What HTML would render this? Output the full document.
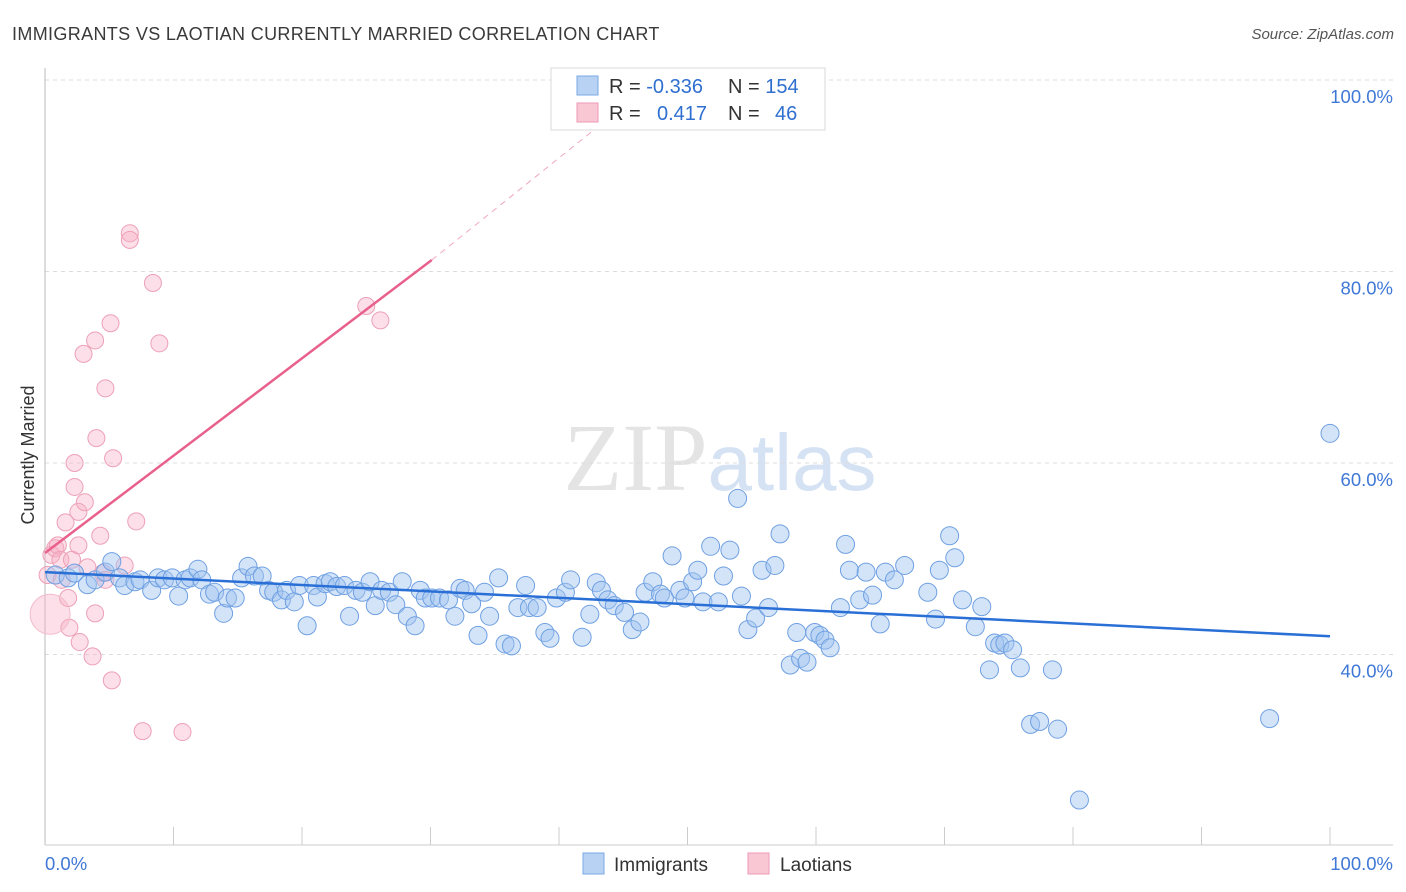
<!DOCTYPE html>
<html><head><meta charset="utf-8"><style>
body{margin:0;background:#fff;font-family:"Liberation Sans",sans-serif}
svg{display:block}
</style></head><body>
<svg id="chart" width="1406" height="892" viewBox="0 0 1406 892">
<text x="12" y="40" font-size="18" fill="#3a3a3a" letter-spacing="0.35">IMMIGRANTS VS LAOTIAN CURRENTLY MARRIED CORRELATION CHART</text>
<text x="1394" y="39" font-size="15" fill="#555" font-style="italic" text-anchor="end">Source: ZipAtlas.com</text>
<text x="720" y="490" font-size="96" fill="#e4e4e4" text-anchor="middle" font-family="Liberation Serif,serif">ZIP<tspan fill="#d4e2f4" font-family="Liberation Sans,sans-serif" font-size="80">atlas</tspan></text>
<text transform="translate(34,455) rotate(-90)" font-size="18" fill="#333" text-anchor="middle">Currently Married</text>
<g id="grid"></g><g id="pts"></g><g id="lines"></g>
<g>
<rect x="551" y="68" width="274" height="62" fill="#fff" stroke="#d8d8d8"/>
<rect x="577" y="76" width="21" height="19" fill="#b8d2f4" stroke="#7aa8e4"/>
<rect x="577" y="103" width="21" height="19" fill="#f9c6d4" stroke="#ee9ab4"/>
<text x="609" y="93" font-size="20" fill="#333">R = <tspan fill="#2f6fd0">-0.336</tspan><tspan x="728">N = </tspan><tspan fill="#2f6fd0">154</tspan></text>
<text x="609" y="120" font-size="20" fill="#333">R = <tspan x="657" fill="#2f6fd0">0.417</tspan><tspan x="728">N = </tspan><tspan x="775" fill="#2f6fd0">46</tspan></text>
</g>
<g>
<rect x="583" y="853" width="21" height="21" fill="#b8d2f4" stroke="#7aa8e4"/>
<text x="614" y="871" font-size="19" fill="#333">Immigrants</text>
<rect x="748" y="853" width="21" height="21" fill="#f9c6d4" stroke="#ee9ab4"/>
<text x="780" y="871" font-size="19" fill="#333">Laotians</text>
</g>
</svg>
<script>
const yTicks=[100,80,60,40];
const yTickLabels=["100.0%","80.0%","60.0%","40.0%"];
const xTickLabels=["0.0%","100.0%"];
const blueX=[0.8,1.8,2.3,3.3,3.9,4.7,5.2,5.8,6.2,7.0,7.4,8.3,8.8,9.3,9.9,10.4,10.9,11.3,11.9,12.2,12.8,13.2,13.9,14.2,14.8,15.3,15.8,16.3,16.9,17.4,17.8,18.4,18.8,19.4,19.8,20.4,20.9,21.2,21.8,22.2,22.7,23.3,23.7,24.2,24.7,25.3,25.7,26.2,26.8,27.3,27.8,28.2,28.8,29.2,29.6,30.1,30.7,31.4,31.9,32.3,32.7,33.2,33.7,34.2,34.6,35.3,35.8,36.3,36.8,37.4,37.7,38.3,38.9,39.3,39.8,40.5,40.9,41.8,42.4,42.9,43.3,43.8,44.3,45.1,45.7,46.3,46.7,47.3,47.9,48.2,48.8,49.4,49.8,50.4,50.8,51.2,51.8,52.4,52.8,53.3,53.9,54.2,54.7,55.3,55.8,56.3,56.8,57.2,58.0,58.5,58.8,59.3,59.9,60.3,60.7,61.1,61.9,62.3,62.6,63.4,63.9,64.4,65.0,65.4,66.1,66.9,68.7,69.3,69.6,70.4,70.8,71.4,72.4,72.9,73.5,73.9,74.3,74.7,75.3,75.9,76.7,77.4,78.4,78.8,80.5,95.3,100];
const blueY=[48.3,48.0,48.5,47.3,47.8,48.6,49.7,48.0,47.2,47.6,47.8,46.7,48.0,47.8,48.0,46.1,47.8,48.0,48.9,47.8,46.3,46.5,44.3,45.9,45.9,48.0,49.2,48.2,48.2,46.7,46.5,45.7,46.7,45.5,47.2,43.0,47.2,46.0,47.4,47.6,47.1,47.2,44.0,46.7,46.5,47.6,45.1,46.7,46.5,45.2,47.6,44.0,43.0,46.7,45.9,45.9,45.9,45.7,44.0,46.9,46.7,45.3,42.0,46.5,44.0,48.0,41.1,40.9,44.9,47.2,44.9,44.9,42.3,41.7,45.9,46.5,47.8,41.8,44.2,47.5,46.7,45.7,45.1,44.4,42.6,43.4,46.5,47.6,46.3,45.9,50.3,46.7,45.9,47.6,48.8,45.5,51.3,45.5,48.2,50.9,56.3,46.1,42.6,43.8,48.8,44.9,49.3,52.6,38.9,42.3,39.6,39.2,42.3,42.0,41.5,40.7,44.9,51.5,48.8,45.7,48.6,46.2,43.2,48.6,47.8,49.3,46.5,43.7,48.8,52.4,50.1,45.7,42.9,45.0,38.4,41.2,41.0,41.2,40.5,38.6,32.7,33.0,38.4,32.2,24.8,33.3,63.1];
const pinkX=[0.2,0.5,0.8,1.0,1.2,1.3,1.6,1.8,1.9,2.1,2.3,2.3,2.6,2.6,2.7,3.0,3.1,3.3,3.7,3.9,3.9,4.0,4.3,4.5,4.7,5.1,5.2,5.3,6.2,6.6,6.6,7.1,7.6,8.4,8.9,10.7,25.0,26.1,4.7];
const pinkY=[48.3,50.4,51.1,51.4,49.9,47.8,53.8,45.9,42.8,49.9,57.5,60.0,51.4,54.9,41.3,71.4,55.9,49.1,39.8,44.3,72.8,62.6,52.4,48.5,67.8,74.6,37.3,60.5,49.3,84.0,83.3,53.9,32.0,78.8,72.5,31.9,76.4,74.9,47.8];
const bigPinkX=[0.4], bigPinkY=[44.2];
const blueTrend=[[0,48.6],[100,41.9]];
const pinkTrend=[[0,50.6],[30.1,81.2]];
const pinkDash=[[30.1,81.2],[43.2,95.3]];
const X=v=>45+v*12.85, Y=v=>80+(100-v)*9.575;
const NS="http://www.w3.org/2000/svg";
function mk(t,a,p){const e=document.createElementNS(NS,t);for(const k in a)e.setAttribute(k,a[k]);p.appendChild(e);return e;}
const g=document.getElementById('grid');
yTicks.forEach((t,i)=>{
 const l=mk('line',{x1:45,x2:1393,y1:Y(t),y2:Y(t),stroke:'#dcdcdc','stroke-dasharray':'4,4'},g);
 
 
 const tx=mk('text',{x:1393,y:Y(t)+23,'font-size':18.5,fill:'#3f78d6','text-anchor':'end'},g);
 tx.textContent=yTickLabels[i];
 
 
});
const ax=mk('line',{x1:45,x2:45,y1:68,y2:845,stroke:'#bbb'},g);


const bx=mk('line',{x1:45,x2:1393,y1:845,y2:845,stroke:'#ccc'},g);


for(let i=1;i<=10;i++){const t=mk('line',{x1:X(i*10),x2:X(i*10),y1:827,y2:845,stroke:'#ccc'},g);
 
 }
[[0,'start',45],[100,'end',1393]].forEach((d,i)=>{const t=mk('text',{x:d[2],y:870,'font-size':18.5,fill:'#3f78d6','text-anchor':d[1]},g);t.textContent=xTickLabels[i];
 
 });
const p=document.getElementById('pts');
pinkX.forEach((x,i)=>{const c=mk('circle',{cx:X(x),cy:Y(pinkY[i]),r:8.5,fill:'rgba(248,176,198,0.4)',stroke:'#eda0b8','stroke-width':1},p);
 
 });
bigPinkX.forEach((x,i)=>{const c=mk('circle',{cx:X(x),cy:Y(bigPinkY[i]),r:20,fill:'rgba(248,176,198,0.4)',stroke:'#f2bccb','stroke-width':1},p);
 
 });
blueX.forEach((x,i)=>{const c=mk('circle',{cx:X(x),cy:Y(blueY[i]),r:9,fill:'rgba(160,196,240,0.45)',stroke:'#6fa0e2','stroke-width':1},p);
 
 });
const L=document.getElementById('lines');
let l1=mk('line',{x1:X(blueTrend[0][0]),y1:Y(blueTrend[0][1]),x2:X(blueTrend[1][0]),y2:Y(blueTrend[1][1]),stroke:'#2a6fd6','stroke-width':2.5},L);


let l2=mk('line',{x1:X(pinkTrend[0][0]),y1:Y(pinkTrend[0][1]),x2:X(pinkTrend[1][0]),y2:Y(pinkTrend[1][1]),stroke:'#e8608c','stroke-width':2.5},L);


let l3=mk('line',{x1:X(pinkDash[0][0]),y1:Y(pinkDash[0][1]),x2:X(pinkDash[1][0]),y2:Y(pinkDash[1][1]),stroke:'#f0a8bf','stroke-width':1,'stroke-dasharray':'6,5'},L);


</script>
</body></html>
